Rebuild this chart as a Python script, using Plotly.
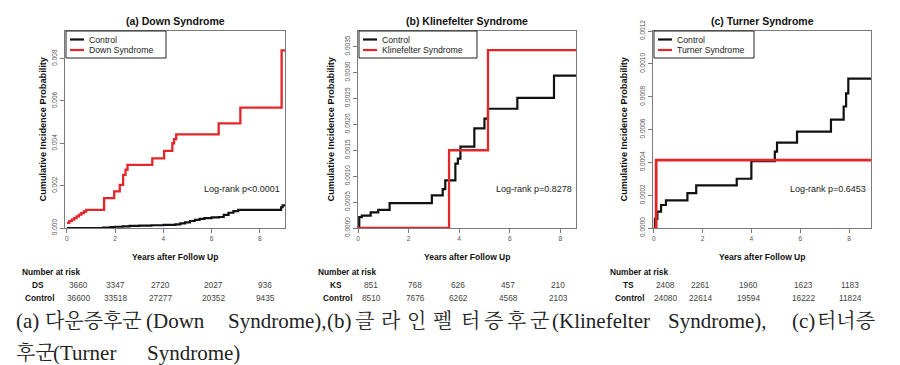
import plotly.graph_objects as go

# ---------------- data ----------------
panel_titles = ["(a) Down Syndrome", "(b) Klinefelter Syndrome", "(c) Turner Syndrome"]
group_names = ["Down Syndrome", "Klinefelter Syndrome", "Turner Syndrome"]
group_abbr = ["DS", "KS", "TS"]
logrank = ["Log-rank p<0.0001", "Log-rank p=0.8278", "Log-rank p=0.6453"]

# (a) Down syndrome
ds_time = [0, 0.1, 0.2, 0.3, 0.4, 0.5, 0.6, 0.7, 0.8, 1.54, 1.96, 2.19, 2.33, 2.43, 2.51, 3.54, 4.03, 4.37, 4.44, 4.53, 6.29, 7.19, 8.9, 9.04]
ds_cif = [0.00024, 0.00032, 0.00040, 0.00047, 0.00055, 0.00063, 0.00070, 0.00078, 0.00086, 0.00141, 0.00173, 0.00204, 0.00251, 0.00275, 0.00298, 0.00329, 0.00364, 0.0040, 0.00420, 0.00442, 0.00494, 0.00568, 0.00839, 0.00839]
ds_ctrl_time = [0, 1.5, 1.8, 2.0, 2.3, 2.6, 3.0, 3.5, 4.0, 4.5, 4.7, 4.9, 5.1, 5.3, 5.5, 5.7, 6.0, 6.3, 6.5, 6.7, 6.9, 7.1, 8.88, 8.94, 9.04]
ds_ctrl_cif = [0, 0.00002, 0.00004, 0.00006, 0.00008, 0.0001, 0.00011, 0.00013, 0.00015, 0.00017, 0.00022, 0.00027, 0.00033, 0.00038, 0.00043, 0.00047, 0.0005, 0.00052, 0.00062, 0.00072, 0.0008, 0.00086, 0.00098, 0.00107, 0.00107]

# (b) Klinefelter syndrome
ks_time = [0, 3.6, 5.14, 8.62]
ks_cif = [0, 0.0015, 0.00343, 0.00343]
ks_ctrl_time = [0, 0.05, 0.15, 0.5, 0.8, 1.25, 2.92, 3.35, 3.45, 3.85, 3.95, 4.05, 4.6, 5.0, 5.14, 6.3, 7.75, 8.62]
ks_ctrl_cif = [0, 0.00021, 0.00024, 0.0003, 0.00035, 0.00048, 0.00063, 0.00075, 0.00092, 0.00124, 0.00134, 0.00157, 0.00192, 0.00211, 0.0023, 0.00251, 0.00294, 0.00294]

# (c) Turner syndrome
ts_time = [0, 0.1, 8.9]
ts_cif = [0, 0.000413, 0.000413]
ts_ctrl_time = [0, 0.05, 0.15, 0.3, 0.5, 1.38, 1.74, 3.4, 4.0, 4.96, 5.05, 5.87, 7.26, 7.78, 7.88, 7.97, 8.9]
ts_ctrl_cif = [0, 0.000055, 0.0001, 0.00014, 0.000168, 0.000213, 0.00026, 0.0003, 0.000407, 0.000465, 0.00052, 0.000587, 0.00066, 0.00074, 0.00082, 0.00091, 0.00091]

# number at risk tables
risk_ds = [3660, 3347, 2720, 2027, 936]
risk_ds_ctrl = [36600, 33518, 27277, 20352, 9435]
risk_ks = [851, 768, 626, 457, 210]
risk_ks_ctrl = [8510, 7676, 6262, 4568, 2103]
risk_ts = [2408, 2261, 1960, 1623, 1183]
risk_ts_ctrl = [24080, 22614, 19594, 16222, 11824]

x_ticks = [0, 2, 4, 6, 8]
y_ticks_a = [0, 0.002, 0.004, 0.006, 0.008]
y_ticks_b = [0, 0.0005, 0.001, 0.0015, 0.002, 0.0025, 0.003, 0.0035]
y_ticks_c = [0, 0.0002, 0.0004, 0.0006, 0.0008, 0.001, 0.0012]

# caption pieces: (text, is_korean)
caption_line1 = [("(a)", False), ("다운증후군", True), ("(Down", False), ("Syndrome),", False), ("(b)", False),
                 ("클", True), ("라", True), ("인", True), ("펠", True), ("터", True), ("증", True), ("후", True), ("군", True),
                 ("(Klinefelter", False), ("Syndrome),", False), ("(c)", False), ("터너증", True)]
caption_line2 = [("후군", True), ("(Turner", False), ("Syndrome)", False)]

# ---------------- layout helpers ----------------
W, H = 900, 365
def px(x): return x / W
def py(y): return 1 - y / H

RED = "#e3262a"
BLACK = "#111111"
FRAME = "#7a7a7a"
SANS = "Liberation Sans, Arial, sans-serif"
SERIF = "Liberation Serif, Noto Serif CJK KR, Noto Sans CJK KR, serif"

frames = [(57, 277), (350, 568), (645, 863)]
top, bottom = 23, 220
x_ranges = [[-0.08, 9.04], [0, 8.62], [-0.03, 8.9]]
y_ranges = [[0, 0.0093], [0, 0.0038], [0, 0.0012]]
y_tick_sets = [y_ticks_a, y_ticks_b, y_ticks_c]
y_fmts = [".3f", ".4f", ".4f"]

groups = [
    (ds_time, ds_cif, ds_ctrl_time, ds_ctrl_cif),
    (ks_time, ks_cif, ks_ctrl_time, ks_ctrl_cif),
    (ts_time, ts_cif, ts_ctrl_time, ts_ctrl_cif),
]
risks = [(risk_ds, risk_ds_ctrl), (risk_ks, risk_ks_ctrl), (risk_ts, risk_ts_ctrl)]
risk_cols = [[70, 107, 152, 205, 257], [363, 407, 450, 500, 550], [657, 692, 740, 795, 842]]
abbr_x = [30, 328, 620]
ctrl_x = [32, 330, 622]
nar_x = [12, 308, 600]
ytitle_x = [34, 322, 615]
legend_w = [100, 118, 100]

fig = go.Figure()
annotations = []
shapes = []

def note(x, y, text, size, color="#111", xanchor="center", angle=0, family=SANS):
    annotations.append(dict(x=px(x), y=py(y), xref="paper", yref="paper", text=text, showarrow=False,
                            xanchor=xanchor, yanchor="middle", textangle=angle,
                            font=dict(family=family, size=size, color=color)))

for i in range(3):
    sfx = "" if i == 0 else str(i + 1)
    gt, gc, ct, cc = groups[i]
    fig.add_trace(go.Scatter(x=ct, y=cc, mode="lines", line=dict(color=BLACK, width=2.2, shape="hv"),
                             xaxis="x" + sfx, yaxis="y" + sfx, showlegend=False, name="Control"))
    fig.add_trace(go.Scatter(x=gt, y=gc, mode="lines", line=dict(color=RED, width=2.3 if i < 2 else 2.8, shape="hv"),
                             xaxis="x" + sfx, yaxis="y" + sfx, showlegend=False, name=group_names[i]))
    x0, x1 = frames[i]
    common = dict(showline=True, mirror=True, linecolor=FRAME, linewidth=1, ticks="outside",
                  ticklen=4, tickcolor=FRAME, showgrid=False, zeroline=False, automargin=False,
                  tickfont=dict(family=SANS, size=6.5, color="#555"))
    fig.update_layout(**{
        "xaxis" + sfx: dict(domain=[px(x0), px(x1)], range=x_ranges[i], tickvals=x_ticks,
                            anchor="y" + sfx, **common),
        "yaxis" + sfx: dict(domain=[py(bottom), py(top)], range=y_ranges[i], tickvals=y_tick_sets[i],
                            tickformat=y_fmts[i], tickangle=-90, anchor="x" + sfx, **common),
    })
    cx = (x0 + x1) / 2
    note(cx, 13, "<b>%s</b>" % panel_titles[i], 10.5)
    note(ytitle_x[i], (top + bottom) / 2, "<b>Cumulative Incidence Probability</b>", 9.2, angle=-90)
    note([234, 526, 820][i], 181, logrank[i], 9, color="#222")
    # legend box
    lw = legend_w[i]
    shapes.append(dict(type="rect", xref="paper", yref="paper", x0=px(x0 + 1), x1=px(x0 + 1 + lw),
                       y0=py(50), y1=py(23), line=dict(color="#222", width=1), fillcolor="white"))
    for lab, col, yy in [("Control", BLACK, 31.5), (group_names[i], RED, 42)]:
        shapes.append(dict(type="line", xref="paper", yref="paper", x0=px(x0 + 5), x1=px(x0 + 19),
                           y0=py(yy), y1=py(yy), line=dict(color=col, width=2.2)))
        note(x0 + 22, yy, lab, 8.7, color="#222", xanchor="left")
    # x title and risk table
    note(cx, 249, "<b>Years after Follow Up</b>", 8.5)
    note(nar_x[i], 264, "<b>Number at risk</b>", 8.3, xanchor="left")
    note(abbr_x[i], 277, "<b>%s</b>" % group_abbr[i], 8.3)
    note(ctrl_x[i], 290, "<b>Control</b>", 8.3)
    for k in range(5):
        note(risk_cols[i][k], 277, str(risks[i][0][k]), 8.3, color="#444")
        note(risk_cols[i][k], 290, str(risks[i][1][k]), 8.3, color="#444")

# caption (justified paragraph: pieces placed at their measured positions)
cap1_x = [6, 35, 136, 218, 317, 345, 371, 397, 423, 451, 474, 497, 520, 542, 658, 782, 807]
cap2_x = [6, 43, 137]
for (t, kr), x in zip(caption_line1, cap1_x):
    note(x, 313, t, 20 if kr else 21, color="#222", xanchor="left", family=SERIF)
for (t, kr), x in zip(caption_line2, cap2_x):
    note(x, 345, t, 20 if kr else 21, color="#222", xanchor="left", family=SERIF)

fig.update_layout(width=W, height=H, margin=dict(l=0, r=0, t=0, b=0), paper_bgcolor="white",
                  plot_bgcolor="white", annotations=annotations, shapes=shapes, showlegend=False)
fig.write_html("out.html")
